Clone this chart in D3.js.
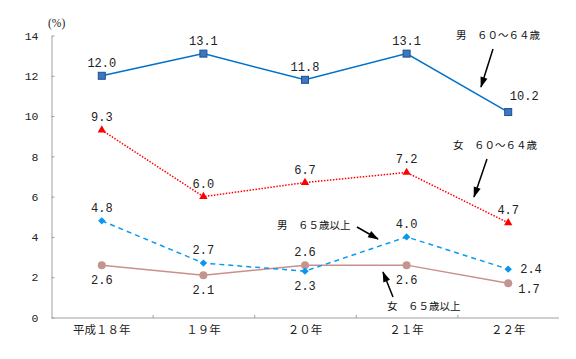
<!DOCTYPE html>
<html><head><meta charset="utf-8">
<script src="https://cdn.jsdelivr.net/npm/d3@7"></script>
<style>
html,body{margin:0;padding:0;background:#fff;}
svg{display:block;}
</style></head>
<body><svg id="chart" width="576" height="359"></svg>
<script>
const categories = ["平成１８年", "１９年", "２０年", "２１年", "２２年"];
const male6064 = [12.0, 13.1, 11.8, 13.1, 10.2];
const female6064 = [9.3, 6.0, 6.7, 7.2, 4.7];
const male65 = [4.8, 2.7, 2.3, 4.0, 2.4];
const female65 = [2.6, 2.1, 2.6, 2.6, 1.7];
const yTicks = [0, 2, 4, 6, 8, 10, 12, 14];
const seriesNames = ["男　６０～６４歳", "女　６０～６４歳", "男　６５歳以上", "女　６５歳以上"];
const unitLabel = "(%)";

// label placement keywords (style, not data)
const placeM6064 = ["top", "top", "top", "top", "topright"];
const placeF6064 = ["top", "top", "top", "top", "top"];
const placeM65 = ["top", "top", "bottom", "top", "right"];
const placeF65 = ["bottom", "bottom", "top", "bottom", "rightlow"];

const svg = d3.select("#chart");
const x = d3.scaleBand().domain(categories).range([51, 559]).paddingInner(0).paddingOuter(0);
const cx = c => x(c) + x.bandwidth() / 2;
const y = d3.scaleLinear().domain([0, 14]).range([317.5, 35.5]);

const axisColor = "#a0a0a0";
const numFont = "'Liberation Mono', monospace";
const jpFont = "'Noto Sans CJK JP', sans-serif";

// Y axis
const yAxis = svg.append("g").attr("transform", "translate(51.5,0)")
  .call(d3.axisLeft(y).tickValues(yTicks).tickFormat(d3.format("d")).tickSizeInner(-3).tickSizeOuter(0).tickPadding(13));
yAxis.select(".domain").attr("stroke", axisColor);
yAxis.selectAll(".tick line").attr("stroke", axisColor);
yAxis.selectAll("text").attr("font-family", numFont).attr("font-size", 11.5).attr("fill", "#222");

// X axis
const xAxis = svg.append("g").attr("transform", "translate(0,318)")
  .call(d3.axisBottom(x).tickSize(0).tickPadding(8));
xAxis.select(".domain").attr("stroke", axisColor).attr("d", "M51.5,0H559");
xAxis.selectAll("text").attr("font-family", jpFont).attr("font-size", 11.5).attr("fill", "#222");
svg.append("g").selectAll("line").data(categories.slice(1)).join("line")
  .attr("x1", d => x(d) + 0.5).attr("x2", d => x(d) + 0.5)
  .attr("y1", 318).attr("y2", 315).attr("stroke", axisColor);

svg.append("text").attr("x", 48).attr("y", 27).text(unitLabel)
  .attr("font-family", "'Liberation Serif', serif").attr("font-size", 11.5).attr("fill", "#222");

const line = d3.line().x((d, i) => cx(categories[i])).y(d => y(d));

function drawSeries(values, opts) {
  svg.append("path").datum(values).attr("d", line).attr("fill", "none")
    .attr("stroke", opts.color).attr("stroke-width", opts.width || 1.5)
    .attr("stroke-dasharray", opts.dash || null);
  const g = svg.append("g");
  values.forEach((v, i) => {
    const px = cx(categories[i]), py = y(v);
    if (opts.marker === "square") {
      g.append("rect").attr("x", px - 3.5).attr("y", py - 3.5).attr("width", 7).attr("height", 7)
        .attr("fill", "#3C78C0").attr("stroke", "#1F4F8F").attr("stroke-width", 1);
    } else if (opts.marker === "triangle") {
      g.append("path").attr("d", d3.symbol(d3.symbolTriangle, 30)()).attr("transform", `translate(${px},${py})`)
        .attr("fill", "#FF0000");
    } else if (opts.marker === "diamond") {
      g.append("rect").attr("x", -2.6).attr("y", -2.6).attr("width", 5.2).attr("height", 5.2)
        .attr("transform", `translate(${px},${py}) rotate(45)`).attr("fill", "#0A96F0");
    } else if (opts.marker === "circle") {
      g.append("circle").attr("cx", px).attr("cy", py).attr("r", 4).attr("fill", "#C39590");
    }
    const p = opts.place[i];
    let tx = px, ty = py - 9, anchor = "middle";
    if (p === "bottom") { ty = py + 19; }
    else if (p === "right") { tx = px + 12; ty = py + 4; anchor = "start"; }
    else if (p === "rightlow") { tx = px + 10; ty = py + 10; anchor = "start"; }
    else if (p === "topright") { tx = px + 16; ty = py - 12; }
    g.append("text").attr("x", tx).attr("y", ty).attr("text-anchor", anchor)
      .attr("font-family", numFont).attr("font-size", 12).attr("fill", "#222").text(v.toFixed(1));
  });
}

drawSeries(female65, { color: "#C8908A", marker: "circle", place: placeF65 });
drawSeries(male65, { color: "#0A9BF0", dash: "5,4", marker: "diamond", place: placeM65 });
drawSeries(female6064, { color: "#FF0000", dash: "1.5,1.5", marker: "triangle", place: placeF6064 });
drawSeries(male6064, { color: "#0070C8", marker: "square", place: placeM6064 });

// annotations
const defs = svg.append("defs");
defs.append("marker").attr("id", "arr").attr("viewBox", "0 0 12 10").attr("refX", 11).attr("refY", 5)
  .attr("markerWidth", 8).attr("markerHeight", 6).attr("orient", "auto")
  .append("path").attr("d", "M0,1 L12,5 L0,9 z").attr("fill", "#000");

const annots = [
  { t: seriesNames[0], tx: 456, ty: 39, a: [493, 49, 481, 87] },
  { t: seriesNames[1], tx: 453, ty: 149, a: [487, 159, 474, 197] },
  { t: seriesNames[2], tx: 277, ty: 229, a: [357, 227, 378, 239] },
  { t: seriesNames[3], tx: 387, ty: 310, a: [393, 297, 383, 272] }
];
annots.forEach(d => {
  svg.append("text").attr("x", d.tx).attr("y", d.ty).text(d.t)
    .attr("font-family", jpFont).attr("font-size", 10.5).attr("fill", "#111");
  svg.append("line").attr("x1", d.a[0]).attr("y1", d.a[1]).attr("x2", d.a[2]).attr("y2", d.a[3])
    .attr("stroke", "#000").attr("stroke-width", 1.5).attr("marker-end", "url(#arr)");
});
</script></body></html>
